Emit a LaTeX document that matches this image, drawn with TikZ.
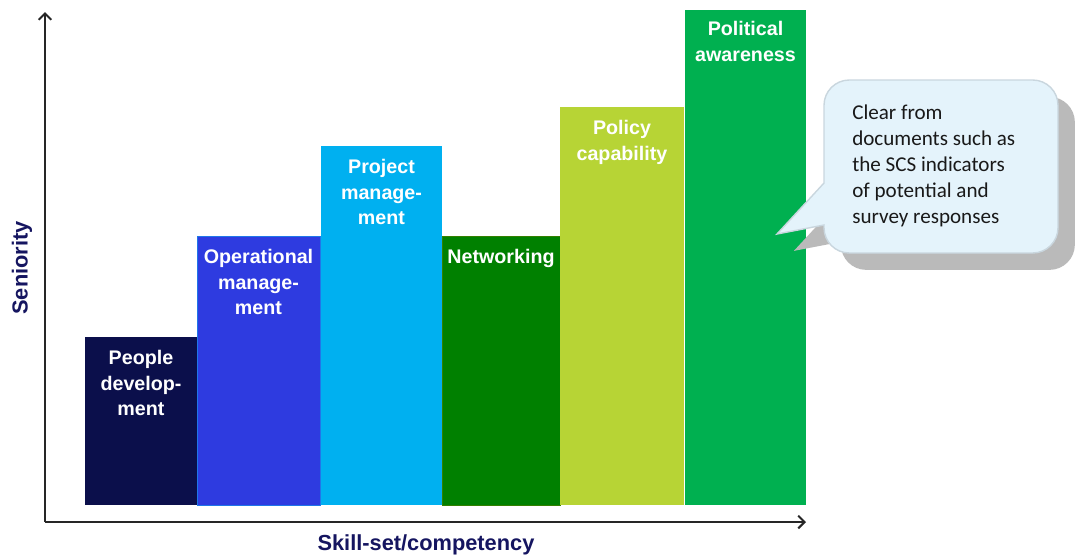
\documentclass[tikz,border=0pt]{standalone}
\usepackage{fontspec}
\setmainfont{Liberation Sans}
\newfontfamily\notefont{Carlito}
\usetikzlibrary{positioning, fit, shadows, arrows.meta}
\definecolor{axisnavy}{HTML}{151560}
\definecolor{peopleC}{HTML}{0B0F4B}
\definecolor{opsC}{HTML}{2E3BE0}
\definecolor{projC}{HTML}{00B0F0}
\definecolor{netC}{HTML}{008000}
\definecolor{policyC}{HTML}{B7D435}
\definecolor{politC}{HTML}{00B050}
\definecolor{noteFill}{HTML}{E4F3FB}
\definecolor{noteLine}{HTML}{C9D6DE}
\tikzset{%
  bar/.style = {inner sep=0pt, outer sep=0pt},
  barLabel/.style = {text=white, align=center, inner sep=0pt,
                     font=\fontsize{14}{18.4}\selectfont\bfseries},
  axis/.style = {-{Straight Barb[length=4.5pt, width=9pt]}, line width=1.4pt, draw=black!85},
  axisLabel/.style = {text=axisnavy, inner sep=0pt,
                      font=\fontsize{15.5}{18}\selectfont\bfseries},
  noteBox/.style = {fill=noteFill, draw=noteLine, line width=1pt,
                    drop shadow={shadow xshift=12pt, shadow yshift=-12pt,
                                 fill=black!27, opacity=1}},
  noteText/.style = {align=left, inner sep=0pt, text=black!90,
                     font=\notefont\fontsize{15}{18.4}\selectfont}
  }

\begin{document}
\begin{tikzpicture}[x=0.025cm, y=-0.025cm]
    \useasboundingbox (0,0) rectangle (1078,555);

    % bars, left to right
    \node (people)  [bar, fill=peopleC, fit={(85,337) (197,505)}] {};
    \node (ops)     [bar, fill=opsC, draw=opsC!70!cyan, line width=0.6pt, fit={(197,236) (320,505)}] {};
    \node (proj)    [bar, fill=projC, fit={(321,146) (442,505)}] {};
    \node (net)     [bar, fill=netC, draw=netC!60!olive, line width=0.6pt, fit={(442,236) (560,505)}] {};
    \node (policy)  [bar, fill=policyC, fit={(560,107) (684,505)}] {};
    \node (polit)   [bar, fill=politC, fit={(685,10) (806,505)}] {};

    \node (peopleTxt) [barLabel, below = 9pt of people.north] {People\\develop-\\ment};
    \node (opsTxt)    [barLabel, below = 9pt of ops.north]    {Operational\\manage-\\ment};
    \node (projTxt)   [barLabel, below = 9pt of proj.north]   {Project\\manage-\\ment};
    \node (netTxt)    [barLabel, below = 9pt of net.north]    {Networking};
    \node (policyTxt) [barLabel, below = 9pt of policy.north] {Policy\\capability};
    \node (politTxt)  [barLabel, below = 8pt of polit.north]  {Political\\awareness};

    % axes
    \coordinate (origin) at (45,522);
    \coordinate (yend)   at (45,12);
    \coordinate (xend)   at (806,522);
    \draw[axis] (origin) -- (yend);
    \draw[axis] (origin) -- (xend);
    \node (ylab) [axisLabel, rotate=90] at (22,268) {Seniority};
    \node (xlab) [axisLabel] at (426,545) {Skill-set/competency};

    % callout
    \path[noteBox, rounded corners=18pt]
        (824,183) -- (824,80) -- (1058,80) -- (1058,253) -- (824,253)
        [sharp corners] -- (824,225) -- (777,234) -- cycle;
    \node (note) [noteText, anchor=west] at (852,166)
        {Clear from\\documents such as\\the SCS indicators\\of potential and\\survey responses};
\end{tikzpicture}
\end{document}
